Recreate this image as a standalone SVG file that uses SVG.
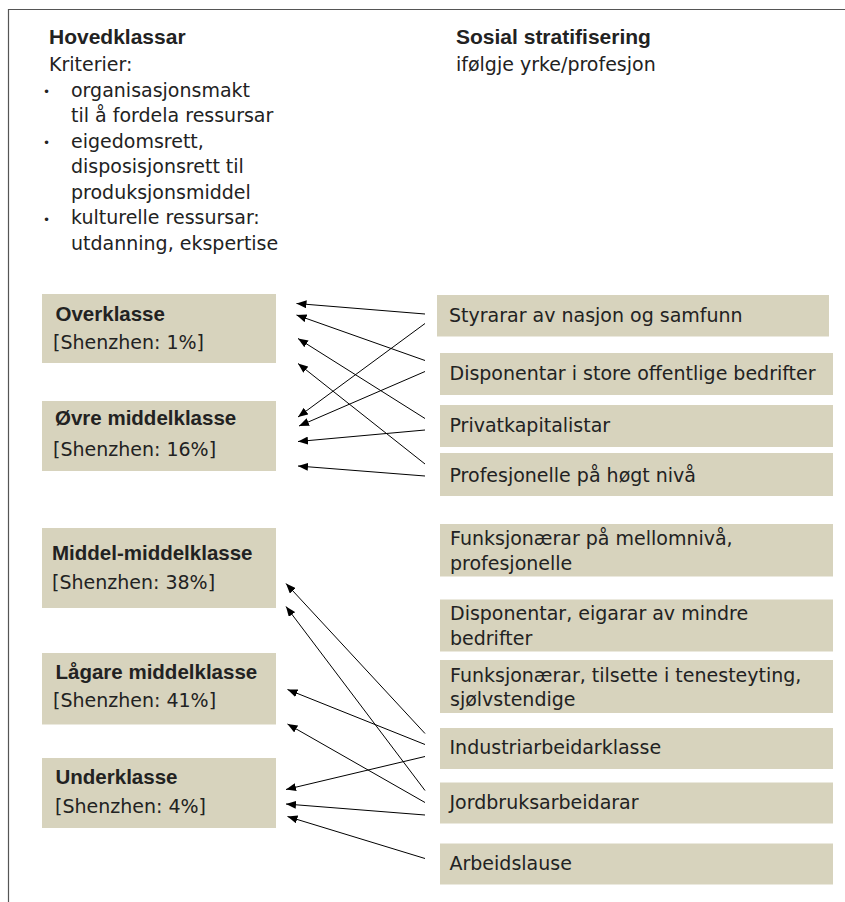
<svg xmlns="http://www.w3.org/2000/svg" width="845" height="902" viewBox="0 0 845 902">
<defs>
<marker id="ah" viewBox="0 0 10 8" refX="10" refY="4" markerWidth="10" markerHeight="8" markerUnits="userSpaceOnUse" orient="auto">
<path d="M0,0 L10,4 L0,8 z" fill="#000"/>
</marker>
<style>
.box{fill:#d7d3bd}
.t{font-family:"DejaVu Sans",sans-serif;font-size:19px;fill:#222}
.b{font-family:"Liberation Sans",Arial,sans-serif;font-weight:bold;font-size:20.5px;fill:#222}
.h{font-family:"Liberation Sans",Arial,sans-serif;font-weight:bold;font-size:21px;fill:#222}
.bul{font-family:"DejaVu Sans",sans-serif;font-size:12px;fill:#222}
.c line{stroke:#000;stroke-width:1;marker-end:url(#ah)}
</style>
</defs>
<rect width="845" height="902" fill="#fff"/>
<path d="M8.5,902 V9.5 H845" fill="none" stroke="#555" stroke-width="1.2"/>

<g id="header-left">
<text class="h" x="49" y="44">Hovedklassar</text>
<text class="t" x="49" y="71">Kriterier:</text>
<text class="bul" x="43" y="96">•</text>
<text class="t" x="71" y="96.5">organisasjonsmakt</text>
<text class="t" x="71" y="122">til å fordela ressursar</text>
<text class="bul" x="43" y="147">•</text>
<text class="t" x="71" y="147.5">eigedomsrett,</text>
<text class="t" x="71" y="173">disposisjonsrett til</text>
<text class="t" x="71" y="198.5">produksjonsmiddel</text>
<text class="bul" x="43" y="224">•</text>
<text class="t" x="71" y="224">kulturelle ressursar:</text>
<text class="t" x="71" y="249.5">utdanning, ekspertise</text>
</g>

<g id="header-right">
<text class="h" x="456" y="44">Sosial stratifisering</text>
<text class="t" x="456" y="71">ifølgje yrke/profesjon</text>
</g>

<g id="overklasse">
<rect class="box" x="42" y="294" width="234" height="69"/>
<text class="b" x="55.5" y="321">Overklasse</text>
<text class="t" x="53" y="349">[Shenzhen: 1%]</text>
</g>
<g id="ovre-middelklasse">
<rect class="box" x="42" y="401" width="234" height="70"/>
<text class="b" x="55" y="424.5">Øvre middelklasse</text>
<text class="t" x="53" y="456">[Shenzhen: 16%]</text>
</g>
<g id="middel-middelklasse">
<rect class="box" x="42" y="528" width="234" height="80"/>
<text class="b" x="52" y="559.5">Middel-middelklasse</text>
<text class="t" x="52" y="588.5">[Shenzhen: 38%]</text>
</g>
<g id="lagare-middelklasse">
<rect class="box" x="42" y="653" width="234" height="71.5"/>
<text class="b" x="55.5" y="679">Lågare middelklasse</text>
<text class="t" x="53" y="707">[Shenzhen: 41%]</text>
</g>
<g id="underklasse">
<rect class="box" x="42" y="758" width="234" height="70"/>
<text class="b" x="55.5" y="783.5">Underklasse</text>
<text class="t" x="55" y="812.5">[Shenzhen: 4%]</text>
</g>

<g id="styrarar">
<rect class="box" x="437" y="295" width="392" height="41.5"/>
<text class="t" x="449" y="321.5">Styrarar av nasjon og samfunn</text>
</g>
<g id="disponentar-store">
<rect class="box" x="440" y="353" width="393" height="42"/>
<text class="t" x="449.5" y="380">Disponentar i store offentlige bedrifter</text>
</g>
<g id="privatkapitalistar">
<rect class="box" x="440" y="405" width="393" height="42"/>
<text class="t" x="449.5" y="431.5">Privatkapitalistar</text>
</g>
<g id="profesjonelle">
<rect class="box" x="440" y="453" width="393" height="43"/>
<text class="t" x="449.5" y="481.5">Profesjonelle på høgt nivå</text>
</g>
<g id="funksjonarar-mellom">
<rect class="box" x="440" y="524" width="393" height="52.5"/>
<text class="t" x="450" y="545">Funksjonærar på mellomnivå,</text>
<text class="t" x="450" y="569.5">profesjonelle</text>
</g>
<g id="disponentar-mindre">
<rect class="box" x="440" y="599.5" width="393" height="52"/>
<text class="t" x="450" y="620">Disponentar, eigarar av mindre</text>
<text class="t" x="450" y="645">bedrifter</text>
</g>
<g id="funksjonarar-tilsette">
<rect class="box" x="440" y="660" width="393" height="53"/>
<text class="t" x="450" y="681.5">Funksjonærar, tilsette i tenesteyting,</text>
<text class="t" x="450" y="706">sjølvstendige</text>
</g>
<g id="industriarbeidarklasse">
<rect class="box" x="440" y="728" width="393" height="41"/>
<text class="t" x="449.5" y="753.5">Industriarbeidarklasse</text>
</g>
<g id="jordbruksarbeidarar">
<rect class="box" x="440" y="782.5" width="393" height="41"/>
<text class="t" x="449.5" y="808.5">Jordbruksarbeidarar</text>
</g>
<g id="arbeidslause">
<rect class="box" x="440" y="843.5" width="393" height="41"/>
<text class="t" x="449.5" y="870">Arbeidslause</text>
</g>

<g id="connectors" class="c">
<line x1="425" y1="314" x2="296.5" y2="303.5"/>
<line x1="425" y1="360.5" x2="296.5" y2="315"/>
<line x1="425" y1="418.5" x2="298" y2="338.5"/>
<line x1="425" y1="464" x2="298" y2="363.5"/>
<line x1="425" y1="323.5" x2="298" y2="417"/>
<line x1="425" y1="371.5" x2="299" y2="426"/>
<line x1="425" y1="430" x2="298" y2="441.5"/>
<line x1="425" y1="476" x2="298" y2="466"/>
<line x1="425" y1="733.5" x2="286" y2="583.5"/>
<line x1="425" y1="790.5" x2="286" y2="606.5"/>
<line x1="425" y1="744.5" x2="287.5" y2="689.5"/>
<line x1="425" y1="802.5" x2="287.5" y2="724"/>
<line x1="425" y1="756.5" x2="286" y2="789.5"/>
<line x1="425" y1="815" x2="286" y2="804"/>
<line x1="425" y1="858.5" x2="287.5" y2="816.5"/>
</g>
</svg>
